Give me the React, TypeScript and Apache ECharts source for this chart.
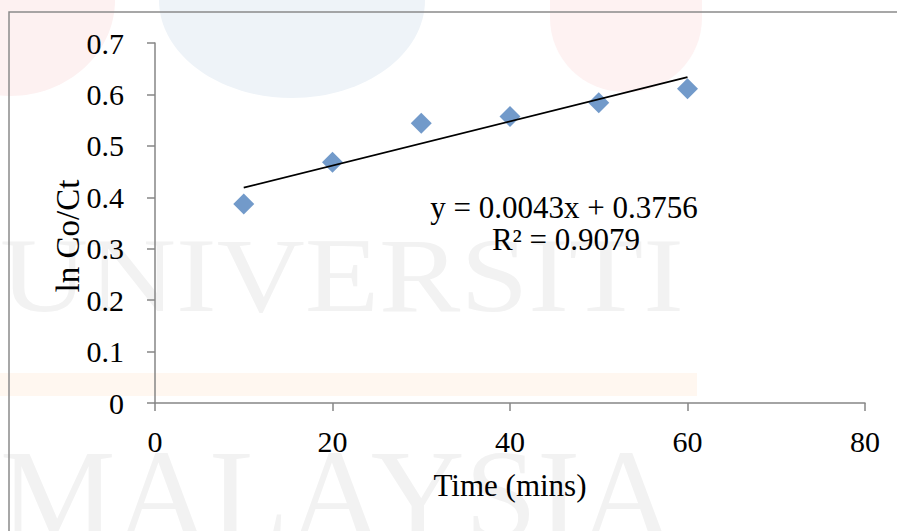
import React, { useEffect, useRef } from "react";
import * as echarts from "echarts";

const timeMins = [10, 20, 30, 40, 50, 60];
const lnCoCt = [0.387, 0.468, 0.544, 0.557, 0.584, 0.611];
const trendX = [10, 60];
const trendY = [0.4186, 0.6336];
const xTicks = [0, 20, 40, 60, 80];
const yTicks = [0, 0.1, 0.2, 0.3, 0.4, 0.5, 0.6, 0.7];
const equationLines = ["y = 0.0043x + 0.3756", "R² = 0.9079"];
const axisTitles = ["Time (mins)", "ln Co/Ct"];
const watermarkWords = ["UNIVERSITI", "MALAYSIA"];

const FONT = '"Liberation Serif", "Times New Roman", serif';

export default function App() {
  const ref = useRef<HTMLDivElement>(null);
  useEffect(() => {
    document.body.style.margin = "0";
    const chart = echarts.init(ref.current!, null, { renderer: "svg" });
    const option: any = {
      animation: false,
      backgroundColor: "#ffffff",
      grid: { left: 155, top: 43, right: 32, bottom: 128 },
      xAxis: {
        type: "value",
        min: xTicks[0],
        max: xTicks[xTicks.length - 1],
        interval: 20,
        name: axisTitles[0],
        nameLocation: "middle",
        nameGap: 67,
        nameTextStyle: { fontFamily: FONT, fontSize: 31, color: "#000" },
        axisLine: { lineStyle: { color: "#868686", width: 1.5 } },
        axisTick: { length: 8, lineStyle: { color: "#868686", width: 1.5 } },
        axisLabel: { fontFamily: FONT, fontSize: 30, color: "#000", margin: 23 },
        splitLine: { show: false },
      },
      yAxis: {
        type: "value",
        min: yTicks[0],
        max: yTicks[yTicks.length - 1],
        interval: 0.1,
        axisLine: { show: true, lineStyle: { color: "#868686", width: 1.5 } },
        axisTick: { show: true, length: 8, lineStyle: { color: "#868686", width: 1.5 } },
        axisLabel: {
          fontFamily: FONT,
          fontSize: 30,
          color: "#000",
          margin: 31,
          formatter: (v: number) => String(Math.round(v * 10) / 10),
        },
        splitLine: { show: false },
      },
      graphic: [
        { type: "ellipse", z: -10, shape: { cx: 10, cy: 0, rx: 105, ry: 96 }, style: { fill: "#fdf1f1" } },
        { type: "ellipse", z: -10, shape: { cx: 292, cy: 0, rx: 133, ry: 98 }, style: { fill: "#eef3f8" } },
        { type: "rect", z: -10, shape: { x: 550, y: -80, width: 152, height: 172, r: 74 }, style: { fill: "#fef2f2" } },
        { type: "rect", z: -10, shape: { x: 0, y: 373, width: 697, height: 23 }, style: { fill: "#fff7f0" } },
        {
          type: "text", z: -9, x: 0, y: 328, scaleX: 1.15,
          style: { text: watermarkWords[0], font: `106px ${FONT}`, fill: "#f2f2f2", verticalAlign: "bottom" },
        },
        {
          type: "text", z: -9, x: 0, y: 560,
          style: { text: watermarkWords[1], font: `130px ${FONT}`, fill: "#f2f2f2", verticalAlign: "bottom" },
        },
        {
          type: "rect", z: -5, shape: { x: 9, y: 12, width: 900, height: 530 },
          style: { fill: "none", stroke: "#8a8a8a", lineWidth: 1.5 },
        },
        {
          type: "text", z: 10, x: 68, y: 236, rotation: Math.PI / 2,
          style: { text: axisTitles[1], font: `33px ${FONT}`, fill: "#000", align: "center", verticalAlign: "middle" },
        },
        {
          type: "text", z: 10, x: 564, y: 207,
          style: { text: equationLines[0], font: `31px ${FONT}`, fill: "#000", align: "center", verticalAlign: "middle" },
        },
        {
          type: "text", z: 10, x: 566, y: 239,
          style: { text: equationLines[1], font: `31px ${FONT}`, fill: "#000", align: "center", verticalAlign: "middle" },
        },
      ],
      series: [
        {
          type: "scatter",
          data: timeMins.map((t, i) => [t, lnCoCt[i]]),
          symbol: "diamond",
          symbolSize: 21,
          itemStyle: { color: "#4F81BD" },
          z: 3,
        },
        {
          type: "line",
          data: trendX.map((t, i) => [t, trendY[i]]),
          symbol: "none",
          lineStyle: { color: "#000", width: 1.8 },
          z: 4,
        },
      ],
    };
    chart.setOption(option);
    return () => chart.dispose();
  }, []);
  return <div ref={ref} style={{ width: 897, height: 531 }} />;
}
